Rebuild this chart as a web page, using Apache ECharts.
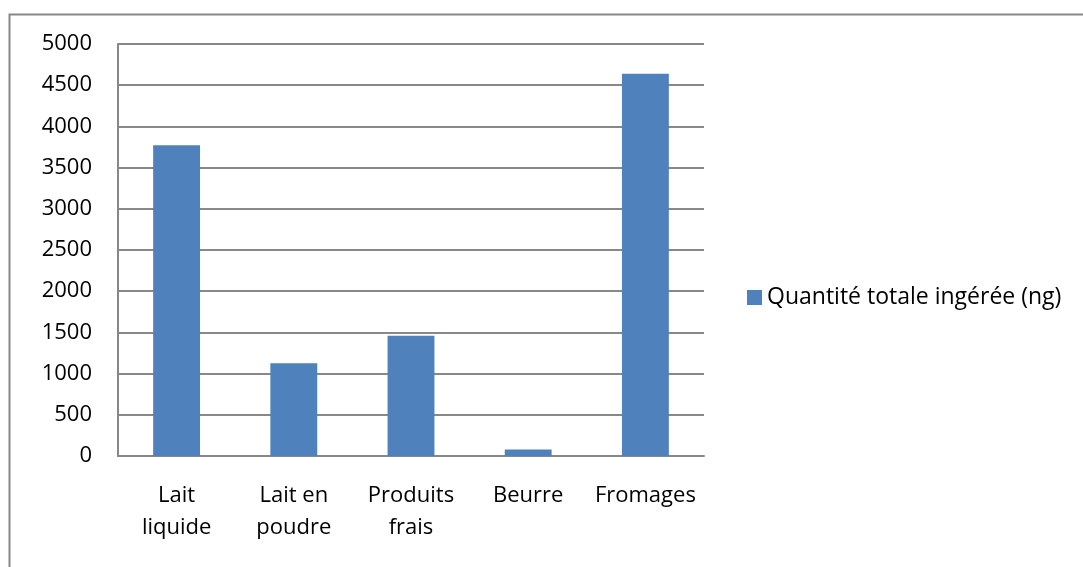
<!DOCTYPE html>
<html>
<head>
<meta charset="utf-8">
<script src="https://cdn.jsdelivr.net/npm/echarts@6/dist/echarts.min.js"></script>
<style>
  html, body { margin: 0; padding: 0; background: #fff; }
  #chart { width: 1083px; height: 567px; }
</style>
</head>
<body>
<div id="chart"></div>
<script>
// catégories et valeurs
let categories = ["Lait\nliquide", "Lait en\npoudre", "Produits\nfrais", "Beurre", "Fromages"];
let quantites = [3770, 1125, 1460, 80, 4640];
let seriesName = "Quantité totale ingérée (ng)";

window.onload = function () {
  var myChart = echarts.init(document.getElementById("chart"));
  var police = "'Open Sans', sans-serif";

  option = {
    animation: false,
    backgroundColor: "#fff",
    graphic: [
      {
        type: "rect",
        shape: { x: 9.5, y: 14.5, width: 1090, height: 580 },
        style: { fill: "none", stroke: "#888", lineWidth: 2 },
      },
    ],
    grid: { left: 118, right: 379, top: 44, bottom: 111 },
    legend: {
      data: [seriesName],
      orient: "vertical",
      left: 742,
      top: 281,
      icon: "rect",
      itemWidth: 15,
      itemHeight: 15,
      textStyle: { fontFamily: police, fontSize: 23, color: "#000" },
    },
    xAxis: {
      type: "category",
      data: categories,
      axisTick: { show: false },
      axisLine: { lineStyle: { color: "#888", width: 2 } },
      axisLabel: {
        fontFamily: police,
        fontSize: 22,
        color: "#000",
        lineHeight: 32,
        margin: 24,
        interval: 0,
      },
    },
    yAxis: {
      type: "value",
      min: 0,
      max: 5000,
      interval: 500,
      axisLine: { show: true, lineStyle: { color: "#888", width: 2 } },
      axisTick: { show: false },
      splitLine: { lineStyle: { color: "#888", width: 2 } },
      axisLabel: {
        fontFamily: police,
        fontSize: 22,
        color: "#000",
        margin: 26,
        formatter: function (v) { return String(v); },
      },
    },
    series: [
      {
        name: seriesName,
        type: "bar",
        data: quantites,
        barWidth: "40%",
        itemStyle: { color: "#4f81bd" },
      },
    ],
  };
  myChart.setOption(option);
};
</script>
</body>
</html>
